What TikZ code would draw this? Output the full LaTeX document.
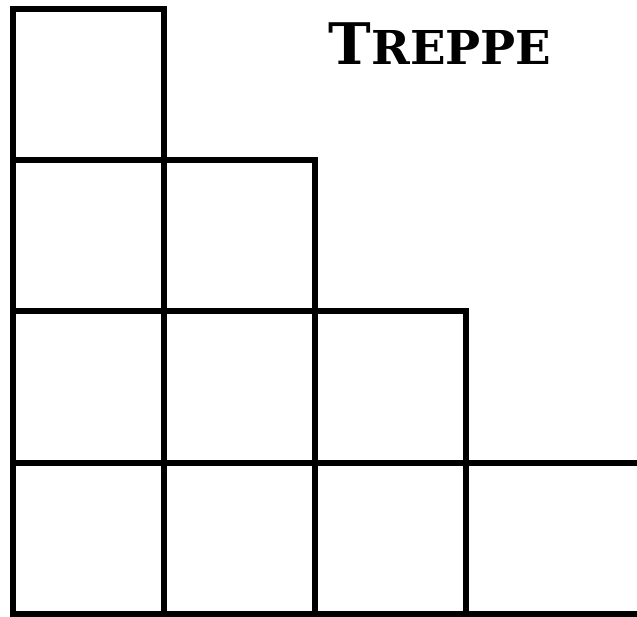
\documentclass[tikz,border=0pt]{standalone}
\usepackage{fontspec}
\setmainfont{DejaVu Serif}
\usepackage{tikz}
\definecolor{inkblack}{HTML}{000000}

\begin{document}
\begin{tikzpicture}[x=0.75pt,y=-0.75pt,line width=4.5pt,line cap=rect]
    \useasboundingbox (0,0) rectangle (637,617);
    % horizontal rows, top to bottom
    \draw[inkblack] (13,9) -- (164,9);
    \draw[inkblack] (13,160) -- (315,160);
    \draw[inkblack] (13,311) -- (466,311);
    \draw[inkblack] (13,463) -- (640,463);
    \draw[inkblack] (13,614) -- (640,614);
    % vertical columns
    \foreach \x/\ytop in {13/9,164/9,315/160,466/311} {
      \draw[inkblack] (\x,\ytop) -- (\x,614);
    }
    \node[inkblack,inner sep=0pt,anchor=base] (title) at (440,65)
      {\bfseries\fontsize{43}{43}\selectfont T\fontsize{35}{35}\selectfont REPPE};
  \end{tikzpicture}
\end{document}
